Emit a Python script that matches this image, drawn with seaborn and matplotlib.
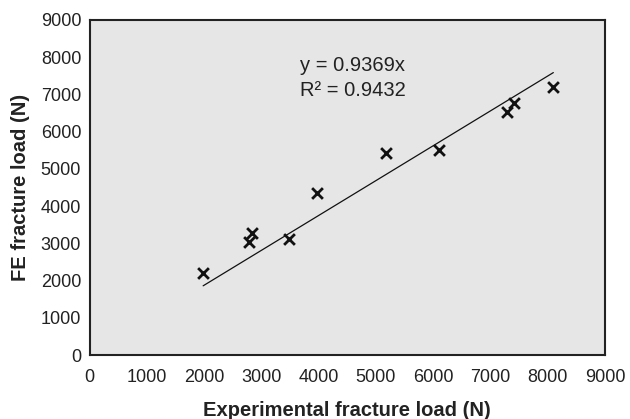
import numpy as np
import pandas as pd
import matplotlib
matplotlib.use("Agg")
import matplotlib.pyplot as plt
import seaborn as sns

# Data
experimental = [1984, 2778, 2844, 3487, 3980, 5182, 6102, 7287, 7413, 8098]
fe_load = [2208, 3030, 3280, 3119, 4352, 5425, 5514, 6515, 6783, 7212]
slope = 0.9369
r_squared = 0.9432
ticks = [0, 1000, 2000, 3000, 4000, 5000, 6000, 7000, 8000, 9000]

df = pd.DataFrame({"x": experimental, "y": fe_load})
xfit = np.array([min(experimental), max(experimental)])
fit = pd.DataFrame({"x": xfit, "y": slope * xfit})

sns.set_style("white")
plt.rcParams["font.family"] = ["Liberation Sans", "DejaVu Sans"]

fig = plt.figure(figsize=(6.30, 4.19), dpi=100)
ax = fig.add_axes([89.5 / 630, 1 - 355 / 419, 515.5 / 630, 335 / 419])
ax.set_facecolor("#e6e6e6")

sns.lineplot(data=fit, x="x", y="y", ax=ax, color="#111111", linewidth=0.9)
sns.scatterplot(data=df, x="x", y="y", ax=ax, marker="x", color="#111111",
                s=60, linewidth=2.0, zorder=3)

ax.set_xlim(0, 9000)
ax.set_ylim(0, 9000)
ax.set_xticks(ticks)
ax.set_yticks(ticks)
ax.set_xticklabels([str(t) for t in ticks], fontsize=13, color="#222222")
ax.set_yticklabels([str(t) for t in ticks], fontsize=13, color="#222222")
ax.tick_params(axis="x", length=0, pad=10)
ax.tick_params(axis="y", length=0, pad=6)

for s in ax.spines.values():
    s.set_color("#222222")
    s.set_linewidth(1.5)

ax.set_xlabel("Experimental fracture load (N)", fontsize=14.5, fontweight="bold",
              labelpad=11, color="#222222")
ax.set_ylabel("FE fracture load (N)", fontsize=14.5, fontweight="bold",
              labelpad=8, color="#222222")

ax.text(3679, 7772, f"y = {slope}x", fontsize=14.5, va="center", ha="left", color="#222222")
ax.text(3679, 7119, f"R\u00b2 = {r_squared}", fontsize=14.5, va="center", ha="left", color="#222222")

fig.savefig("out.png", dpi=100)
